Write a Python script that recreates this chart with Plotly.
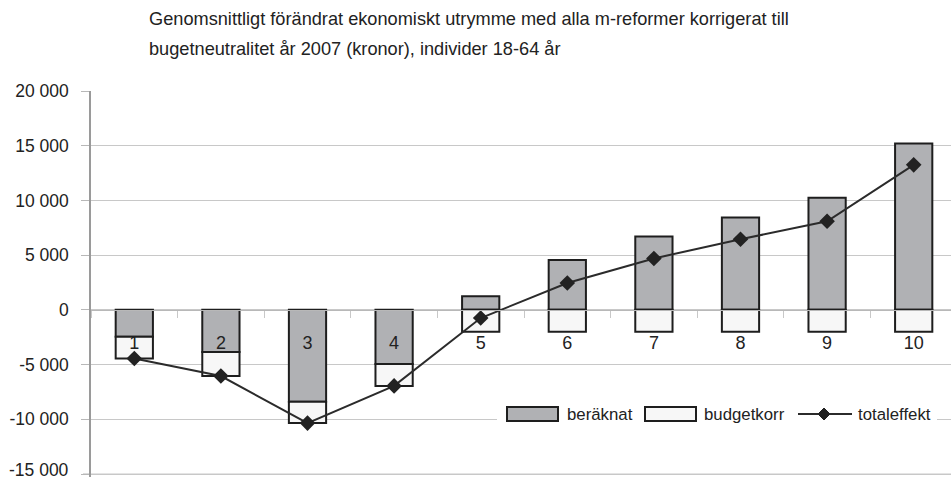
import plotly.graph_objects as go

categories = ["1", "2", "3", "4", "5", "6", "7", "8", "9", "10"]
beraknat = [-2450, -3850, -8400, -4950, 1250, 4550, 6700, 8450, 10250, 15200]
budgetkorr = [-2000, -2200, -1950, -2000, -2000, -2000, -2000, -2000, -2000, -2000]
totaleffekt = [-4450, -6050, -10350, -6950, -750, 2450, 4700, 6450, 8100, 13250]
ytick_vals = [-15000, -10000, -5000, 0, 5000, 10000, 15000, 20000]
ytick_text = ["-15 000", "-10 000", "-5 000", "0", "5 000", "10 000", "15 000", "20 000"]
title_lines = ["Genomsnittligt förändrat ekonomiskt utrymme med alla m-reformer korrigerat till",
               "bugetneutralitet år 2007 (kronor), individer 18-64 år"]
legend_names = ["beräknat", "budgetkorr", "totaleffekt"]

W, H = 951, 480
L, R, T, B = 91, 0, 91, 3
PW, PH = W - L - R, H - T - B
FONT = "Liberation Sans, Arial, sans-serif"
GRAY = "#b0b1b4"
WHITE = "#f7f7f7"
EDGE = "#1e1e1e"
GRID = "#c8c8c8"

# y scale: 20000 at top edge (y=91px), -15000 at y=474px
unit_px = (474 - 91) / (ytick_vals[-1] - ytick_vals[0])
y_high = ytick_vals[-1]
y_low = y_high - PH / unit_px

def px(x):
    return (x - L) / PW

def py(y):
    return (H - B - y) / PH

fig = go.Figure()
fig.add_trace(go.Bar(x=categories, y=beraknat, name=legend_names[0], width=0.43,
                     marker=dict(color=GRAY, line=dict(color=EDGE, width=2))))
fig.add_trace(go.Bar(x=categories, y=budgetkorr, name=legend_names[1], width=0.43,
                     marker=dict(color=WHITE, line=dict(color=EDGE, width=2))))
fig.add_trace(go.Scatter(x=categories, y=totaleffekt, name=legend_names[2], mode="lines+markers",
                         line=dict(color="#2b2b2b", width=2),
                         marker=dict(symbol="diamond", size=12, color="#222222")))

zero_frac = (0 - y_low) / (y_high - y_low)

# the lowest tick label is drawn as an annotation slightly raised (as in the reference)
axis_ticktext = [""] + ytick_text[1:]

fig.update_layout(
    width=W, height=H,
    margin=dict(l=L, r=R, t=T, b=B, autoexpand=False),
    plot_bgcolor="white", paper_bgcolor="white",
    barmode="relative",
    showlegend=False,
    font=dict(family=FONT, size=18, color="#222222"),
    xaxis=dict(type="category", range=[-0.5, -0.5 + PW / 86.6], anchor="free", position=zero_frac,
               showline=True, linecolor="#b8b8b8", linewidth=1,
               ticks="outside", tickson="boundaries", ticklen=7, tickcolor=GRID,
               showgrid=False, tickfont=dict(size=18), ticklabelstandoff=17, automargin=False),
    yaxis=dict(range=[y_low, y_high], tickvals=ytick_vals, ticktext=axis_ticktext,
               showline=True, linecolor="#9a9a9a", linewidth=1.5,
               ticks="outside", ticklen=8, tickcolor="#b8b8b8",
               showgrid=True, gridcolor=GRID, gridwidth=1, zeroline=False,
               tickfont=dict(size=17.5), ticklabelstandoff=9, automargin=False,
               ticklabeloverflow="allow"),
)

# title
fig.add_annotation(text=title_lines[0], x=px(147), y=py(19), xref="paper", yref="paper",
                   xanchor="left", yanchor="middle", showarrow=False, font=dict(size=18.2))
fig.add_annotation(text=title_lines[1], x=px(147), y=py(49), xref="paper", yref="paper",
                   xanchor="left", yanchor="middle", showarrow=False, font=dict(size=18.2))
fig.add_annotation(text=ytick_text[0], x=px(71), y=py(470), xref="paper", yref="paper",
                   xanchor="right", yanchor="middle", showarrow=False, font=dict(size=17.5))

shapes = []
# bottom gridline (Plotly drops it at the plot edge)
shapes.append(dict(type="line", xref="paper", yref="y", x0=0, x1=1, y0=ytick_vals[0], y1=ytick_vals[0],
                   line=dict(color=GRID, width=1), layer="below"))
shapes.append(dict(type="line", xref="paper", yref="y", x0=px(83), x1=0, y0=ytick_vals[0], y1=ytick_vals[0],
                   line=dict(color="#b8b8b8", width=1), layer="below"))
# custom legend
shapes.append(dict(type="rect", xref="paper", yref="paper", x0=px(497), x1=px(937), y0=py(428), y1=py(400),
                   fillcolor="white", line=dict(width=0), layer="above"))
shapes.append(dict(type="rect", xref="paper", yref="paper", x0=px(507), x1=px(558), y0=py(421), y1=py(407),
                   fillcolor=GRAY, line=dict(color=EDGE, width=2), layer="above"))
shapes.append(dict(type="rect", xref="paper", yref="paper", x0=px(645), x1=px(696), y0=py(421), y1=py(407),
                   fillcolor=WHITE, line=dict(color=EDGE, width=2), layer="above"))
shapes.append(dict(type="line", xref="paper", yref="paper", x0=px(798), x1=px(852), y0=py(414), y1=py(414),
                   line=dict(color="#2b2b2b", width=2), layer="above"))
cx, cy, d = 824, 414, 6
path = f"M {px(cx - d)},{py(cy)} L {px(cx)},{py(cy - d)} L {px(cx + d)},{py(cy)} L {px(cx)},{py(cy + d)} Z"
shapes.append(dict(type="path", xref="paper", yref="paper", path=path, fillcolor="#222222",
                   line=dict(color="#222222", width=1), layer="above"))
fig.update_layout(shapes=shapes)
for name, x0 in zip(legend_names, [565, 702, 856]):
    fig.add_annotation(text=name, x=px(x0), y=py(414), xref="paper", yref="paper",
                       xanchor="left", yanchor="middle", showarrow=False, font=dict(size=16.8))

fig.write_html("out.html", config={"displayModeBar": False},
               post_script="document.body.style.margin='0px';document.body.style.overflow='hidden';")
